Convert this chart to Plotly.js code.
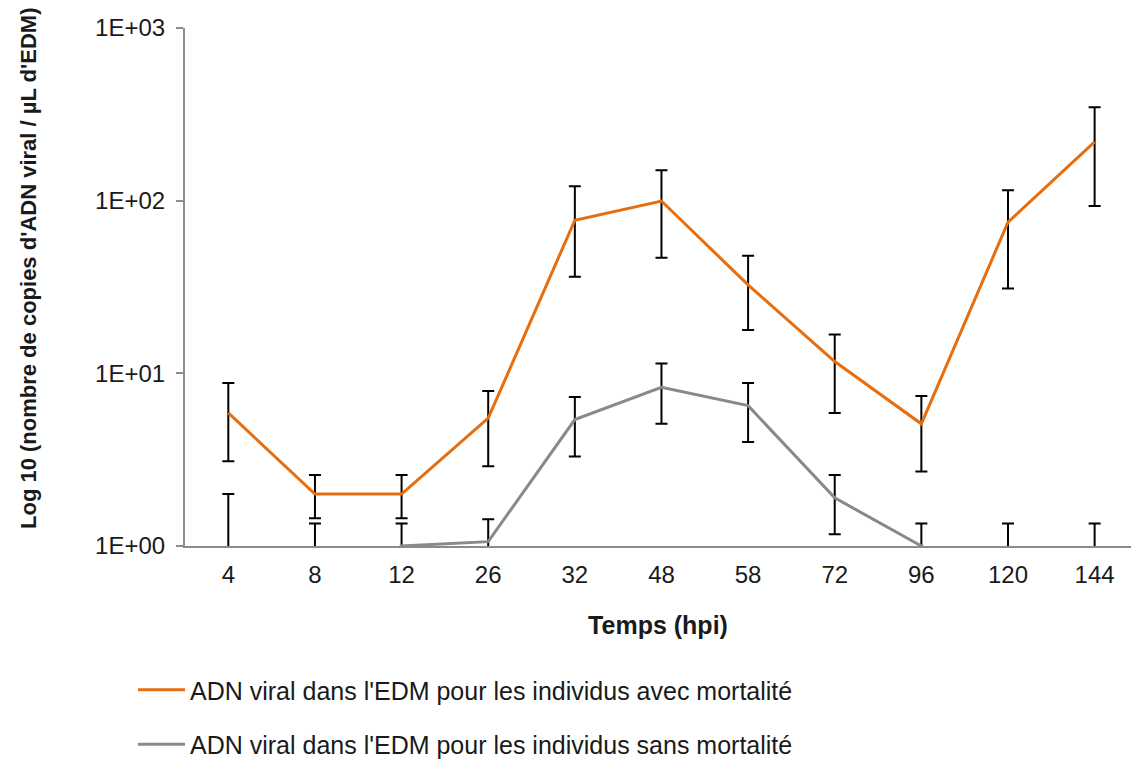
<!DOCTYPE html>
<html>
<head>
<meta charset="utf-8">
<script src="https://cdn.plot.ly/plotly-3.0.1.min.js"></script>
<style>html,body{margin:0;padding:0;background:#fff;}#chart{width:1131px;height:760px;}</style>
</head>
<body>
<div id="chart"></div>
<script>
// Categories (hours post infection)
const categories = ['4','8','12','26','32','48','58','72','96','120','144'];

// Individuals with mortality (orange)
const mortMean  = [5.9, 2.0, 2.0, 5.5, 77, 99.5, 32.5, 11.7, 5.1, 75, 219];
const mortUpper = [8.8, 2.58, 2.58, 7.9, 121, 150, 48, 16.8, 7.4, 115, 347];
const mortLower = [3.1, 1.45, 1.45, 2.9, 36.3, 46.7, 17.8, 5.9, 2.7, 31, 93];

// Individuals without mortality (gray) - values under 1 fall below the axis
const survMean  = [0.5, 0.5, 1.0, 1.06, 5.4, 8.3, 6.5, 1.9, 1.0, 0.5, 0.5];
const survUpper = [2.0, 1.35, 1.35, 1.43, 7.3, 11.4, 8.8, 2.58, 1.35, 1.35, 1.35];
const survLower = [0.25, 0.25, 0.6, 0.7, 3.3, 5.1, 4.0, 1.17, 0.7, 0.25, 0.25];

const seriesNames = [
  "ADN viral dans l'EDM pour les individus avec mortalité",
  "ADN viral dans l'EDM pour les individus sans mortalité"
];

const yTickVals = [1, 10, 100, 1000];
const yTickText = ['1E+00', '1E+01', '1E+02', '1E+03'];

const xTitle = 'Temps (hpi)';
const yTitle = "Log 10 (nombre de copies d'ADN viral / µL d'EDM)";

const FONT = 'Liberation Sans, Arial, sans-serif';
const TXT = '#1a1a1a';

function errObj(mean, up, lo) {
  return {
    type: 'data', symmetric: false,
    array: up.map((u, i) => u - mean[i]),
    arrayminus: lo.map((l, i) => mean[i] - l),
    color: '#000000', thickness: 2, width: 6, visible: true
  };
}

const traces = [
  {
    x: categories, y: mortMean, type: 'scatter', mode: 'lines',
    name: seriesNames[0],
    line: {color: '#E66E0E', width: 3},
    error_y: errObj(mortMean, mortUpper, mortLower),
    legend: 'legend'
  },
  {
    x: categories, y: survMean, type: 'scatter', mode: 'lines',
    name: seriesNames[1],
    line: {color: '#898989', width: 3},
    error_y: errObj(survMean, survUpper, survLower),
    legend: 'legend2'
  }
];

const layout = {
  width: 1131, height: 760,
  margin: {l: 185, r: 0, t: 28, b: 214, autoexpand: false},
  paper_bgcolor: '#ffffff', plot_bgcolor: '#ffffff',
  font: {family: FONT, size: 24, color: TXT},
  showlegend: true,
  xaxis: {
    type: 'category',
    range: [-0.5, 10.42],
    showgrid: false, zeroline: false,
    showline: true, linecolor: '#8c8c8c', linewidth: 2,
    ticks: '',
    tickfont: {family: FONT, size: 24, color: TXT},
    ticklabelstandoff: 6,
    title: {text: xTitle, font: {family: FONT, size: 25, color: TXT, weight: 'bold'}, standoff: 30},
    automargin: false
  },
  yaxis: {
    type: 'log',
    range: [0, 3],
    tickvals: yTickVals, ticktext: yTickText,
    showgrid: false, zeroline: false,
    showline: true, linecolor: '#8c8c8c', linewidth: 2,
    ticks: 'outside', ticklen: 7, tickcolor: '#8c8c8c', tickwidth: 2,
    tickfont: {family: FONT, size: 24, color: TXT},
    ticklabelstandoff: 6,
    automargin: false
  },
  annotations: [{
    text: yTitle, textangle: -90,
    xref: 'paper', yref: 'paper',
    x: (28 - 185) / 946, y: (546 - 269) / 518,
    xanchor: 'center', yanchor: 'middle', showarrow: false,
    font: {family: FONT, size: 22, color: TXT, weight: 'bold'}
  }],
  legend: {
    x: -0.055, y: -0.278, xanchor: 'left', yanchor: 'middle',
    font: {family: FONT, size: 25, color: TXT},
    bgcolor: 'rgba(0,0,0,0)', itemwidth: 47
  },
  legend2: {
    x: -0.055, y: -0.383, xanchor: 'left', yanchor: 'middle',
    font: {family: FONT, size: 25, color: TXT},
    bgcolor: 'rgba(0,0,0,0)', itemwidth: 47
  }
};

Plotly.newPlot('chart', traces, layout, {displayModeBar: false, staticPlot: true});
</script>
</body>
</html>
